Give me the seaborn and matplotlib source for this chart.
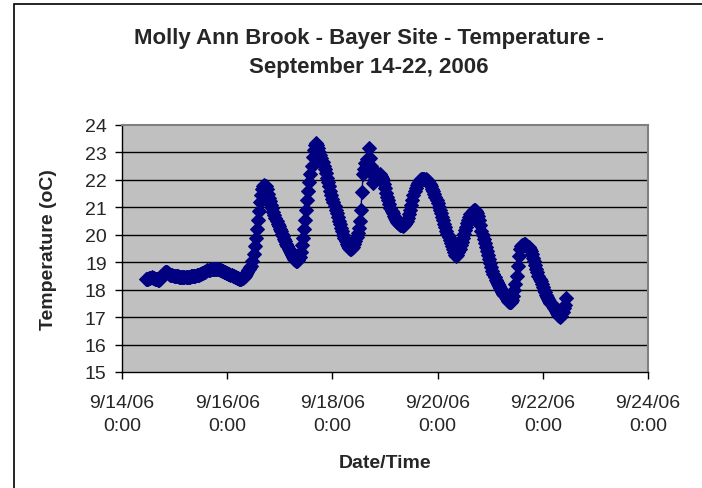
import pandas as pd
import seaborn as sns
import matplotlib.pyplot as plt
import matplotlib.dates as mdates
from matplotlib.patches import Rectangle

# logger readings, one every 30 minutes starting 9/14/06 11:00
start_time = "2006-09-14 11:00"
interval = "30min"
temp_c = [
    # 9/14 11:00 - 22:30
    18.38, 18.39, 18.40, 18.41, 18.43, 18.45, 18.44, 18.42, 18.40, 18.39, 18.38, 18.36,
    18.35, 18.40, 18.48, 18.55, 18.60, 18.64, 18.66, 18.64, 18.60, 18.57, 18.55, 18.53,
    # 9/14 23:00 - 9/15 10:30
    18.52, 18.51, 18.50, 18.49, 18.48, 18.48, 18.47, 18.47, 18.46, 18.46, 18.46, 18.46,
    18.46, 18.46, 18.47, 18.47, 18.47, 18.48, 18.48, 18.49, 18.50, 18.51, 18.52, 18.53,
    # 9/15 11:00 - 22:30
    18.54, 18.56, 18.58, 18.60, 18.62, 18.64, 18.66, 18.68, 18.70, 18.72, 18.73, 18.74,
    18.75, 18.75, 18.76, 18.76, 18.75, 18.75, 18.74, 18.73, 18.71, 18.69, 18.67, 18.65,
    # 9/15 23:00 - 9/16 10:30
    18.63, 18.61, 18.60, 18.58, 18.57, 18.55, 18.53, 18.51, 18.49, 18.47, 18.45, 18.43,
    18.41, 18.40, 18.39, 18.40, 18.42, 18.45, 18.50, 18.57, 18.64, 18.70, 18.76, 18.82,
    # 9/16 11:00 - 22:30
    18.88, 19.05, 19.30, 19.60, 19.90, 20.22, 20.55, 20.88, 21.18, 21.45, 21.65, 21.78,
    21.82, 21.78, 21.65, 21.50, 21.35, 21.22, 21.10, 20.96, 20.82, 20.71, 20.60, 20.50,
    # 9/16 23:00 - 9/17 10:30
    20.40, 20.31, 20.22, 20.12, 20.02, 19.94, 19.85, 19.76, 19.67, 19.58, 19.50, 19.41,
    19.33, 19.26, 19.19, 19.13, 19.08, 19.04, 19.03, 19.08, 19.20, 19.38, 19.62, 19.90,
    # 9/17 11:00 - 22:30
    20.22, 20.55, 20.90, 21.25, 21.60, 21.92, 22.22, 22.52, 22.82, 23.08, 23.28, 23.35,
    23.28, 23.15, 23.02, 22.92, 22.80, 22.66, 22.52, 22.40, 22.25, 22.08, 21.92, 21.76,
    # 9/17 23:00 - 9/18 10:30
    21.60, 21.45, 21.30, 21.18, 21.05, 20.92, 20.80, 20.66, 20.52, 20.39, 20.26, 20.13,
    20.01, 19.89, 19.78, 19.67, 19.59, 19.53, 19.49, 19.48, 19.51, 19.57, 19.65, 19.78,
    # 9/18 11:00 - 22:30
    19.93, 20.08, 20.25, 20.50, 20.90, 21.55, 22.20, 22.40, 22.60, 22.45, 22.75, 23.15,
    22.80, 22.50, 22.20, 21.90, 21.98, 22.05, 22.12, 22.18, 22.22, 22.20, 22.15, 22.08,
    # 9/18 23:00 - 9/19 10:30
    21.98, 21.85, 21.70, 21.53, 21.38, 21.25, 21.12, 20.99, 20.88, 20.78, 20.69, 20.61,
    20.54, 20.48, 20.43, 20.39, 20.36, 20.34, 20.33, 20.35, 20.39, 20.45, 20.52, 20.62,
    # 9/19 11:00 - 22:30
    20.75, 20.92, 21.10, 21.28, 21.45, 21.58, 21.70, 21.80, 21.88, 21.94, 21.99, 22.02,
    22.04, 22.05, 22.04, 22.02, 21.99, 21.95, 21.90, 21.85, 21.77, 21.68, 21.58, 21.48,
    # 9/19 23:00 - 9/20 10:30
    21.38, 21.28, 21.16, 21.03, 20.90, 20.78, 20.66, 20.53, 20.40, 20.27, 20.14, 20.02,
    19.91, 19.80, 19.69, 19.58, 19.47, 19.37, 19.27, 19.22, 19.28, 19.38, 19.50, 19.62,
    # 9/20 11:00 - 22:30
    19.75, 19.88, 20.02, 20.16, 20.30, 20.43, 20.55, 20.65, 20.74, 20.81, 20.87, 20.90,
    20.91, 20.88, 20.80, 20.70, 20.55, 20.35, 20.15, 20.00, 19.85, 19.70, 19.56, 19.42,
    # 9/20 23:00 - 9/21 10:30
    19.28, 19.13, 18.97, 18.81, 18.68, 18.57, 18.46, 18.36, 18.27, 18.21, 18.14, 18.07,
    18.00, 17.93, 17.86, 17.79, 17.72, 17.66, 17.60, 17.56, 17.54, 17.56, 17.64, 17.78,
    # 9/21 11:00 - 22:30
    17.98, 18.22, 18.50, 18.85, 19.22, 19.50, 19.58, 19.62, 19.64, 19.66, 19.66, 19.64,
    19.60, 19.55, 19.50, 19.42, 19.30, 19.17, 19.04, 18.90, 18.77, 18.64, 18.51, 18.40,
    # 9/21 23:00 - 9/22 10:30
    18.30, 18.19, 18.08, 17.98, 17.90, 17.82, 17.74, 17.66, 17.59, 17.52, 17.46, 17.40,
    17.34, 17.28, 17.22, 17.16, 17.09, 17.03, 17.00, 17.05, 17.18, 17.32, 17.45, 17.68,
]

x_ticks = ["2006-09-14", "2006-09-16", "2006-09-18", "2006-09-20", "2006-09-22", "2006-09-24"]
x_tick_labels = ["9/14/06\n0:00", "9/16/06\n0:00", "9/18/06\n0:00",
                 "9/20/06\n0:00", "9/22/06\n0:00", "9/24/06\n0:00"]
y_ticks = list(range(15, 25))

title = "Molly Ann Brook - Bayer Site - Temperature -\nSeptember 14-22, 2006"

df = pd.DataFrame({
    "time": pd.date_range(start_time, periods=len(temp_c), freq=interval),
    "temp": temp_c,
})

sns.set_style("white")
plt.rcParams["font.family"] = ["Liberation Sans", "DejaVu Sans"]

fig = plt.figure(figsize=(7.02, 4.89), dpi=100)
fig.patch.set_facecolor("white")
ax = fig.add_axes([122 / 702, 116 / 489, 526 / 702, 247 / 489])
ax.set_facecolor("#C0C0C0")

# excel style chart frame (only left and top edges fall inside the picture)
fig.patches.append(Rectangle((14 / 702, -0.2), 1.2, 0.2 + (489 - 5) / 489,
                             transform=fig.transFigure, fill=False,
                             edgecolor="black", linewidth=1.2, zorder=0))

navy = "#000080"
sns.lineplot(data=df, x="time", y="temp", ax=ax, color=navy, linewidth=1,
             marker="D", markersize=7, markeredgecolor=navy, markerfacecolor=navy,
             zorder=3)

ax.set_xlim(pd.Timestamp(x_ticks[0]), pd.Timestamp(x_ticks[-1]))
ax.set_ylim(y_ticks[0], y_ticks[-1])
ax.set_xticks([mdates.date2num(pd.Timestamp(t)) for t in x_ticks])
ax.set_xticklabels(x_tick_labels, linespacing=1.45)
ax.set_yticks(y_ticks)

for v in y_ticks[1:-1]:
    ax.axhline(v, color="black", linewidth=1, zorder=1)

for side in ["left", "bottom"]:
    ax.spines[side].set_color("black")
    ax.spines[side].set_linewidth(1)
for side in ["top", "right"]:
    ax.spines[side].set_color("#808080")
    ax.spines[side].set_linewidth(1.5)

ax.tick_params(axis="both", direction="out", length=5, width=1, color="black",
               labelsize=14, left=True, bottom=True)
ax.tick_params(axis="x", pad=11)
ax.tick_params(axis="y", pad=6)

ax.set_xlabel("Date/Time", fontsize=14, fontweight="bold", labelpad=14)
ax.set_ylabel("Temperature (oC)", fontsize=14, fontweight="bold", labelpad=20)

fig.text(369 / 702, 1 - 53 / 489, title, ha="center", va="center",
         fontsize=16, fontweight="bold", linespacing=1.5)

fig.savefig("out.png", dpi=100)
